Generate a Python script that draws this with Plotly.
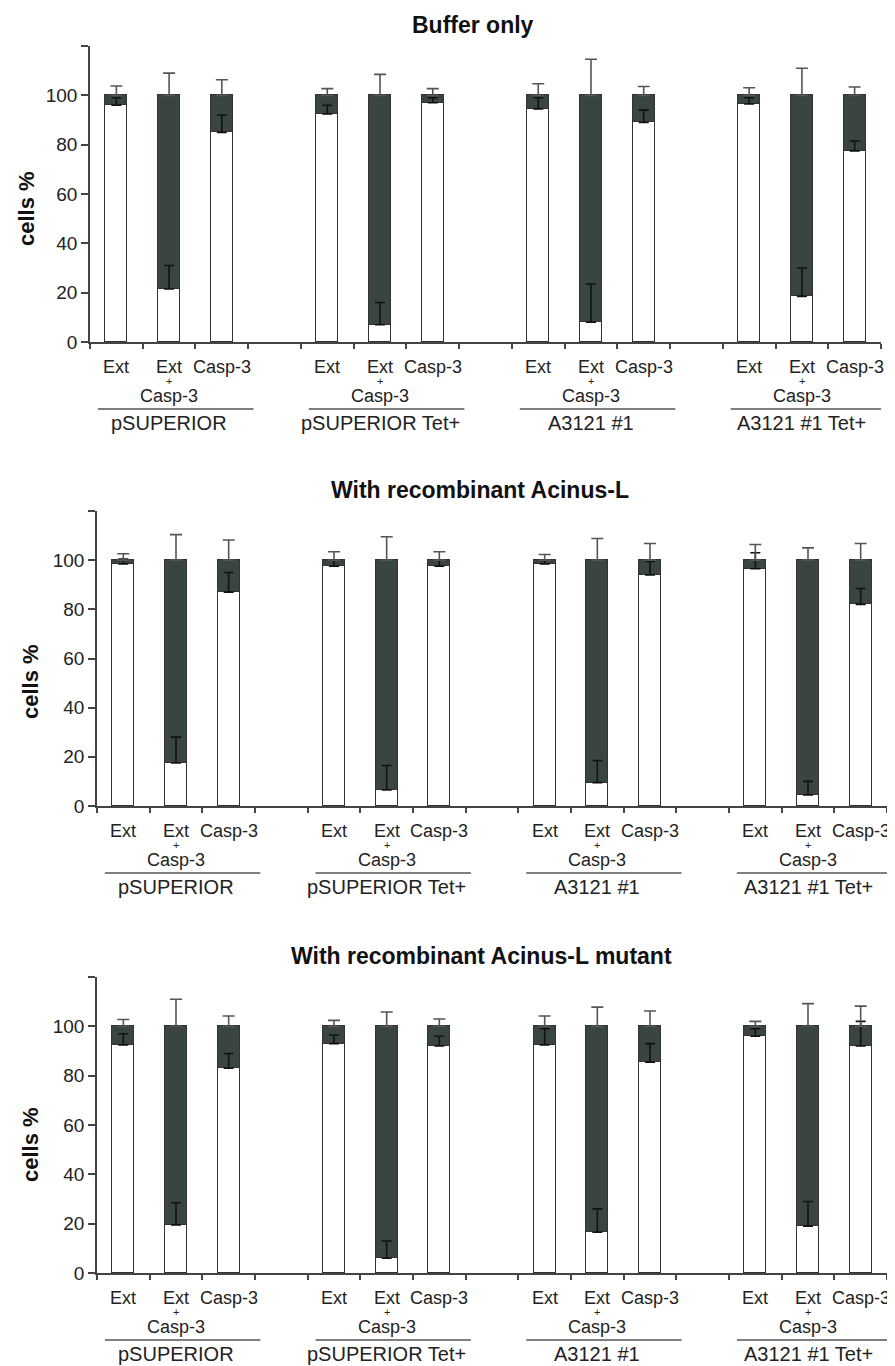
import plotly.graph_objects as go

# ---------------- data ----------------
groups = ["pSUPERIOR", "pSUPERIOR Tet+", "A3121 #1", "A3121 #1 Tet+"]
conditions = ["Ext", "Ext+Casp-3", "Casp-3"]
panel_titles = ["Buffer only", "With recombinant Acinus-L", "With recombinant Acinus-L mutant"]
y_tick_vals = [0, 20, 40, 60, 80, 100, 120]
y_tick_text = ["0", "20", "40", "60", "80", "100", ""]

# white (lower) segment %, its error, and error of the full (100 %) stack
white_buffer = [96, 21.5, 85, 92.5, 7, 97, 94.5, 8, 89, 96.5, 18.5, 77.5]
white_err_buffer = [3, 9.5, 7, 3.5, 9, 2, 4.5, 15.5, 5, 2.5, 11.5, 4]
top_err_buffer = [3.8, 9, 6.3, 2.7, 8.5, 2.7, 4.7, 14.6, 3.6, 3.1, 11, 3.4]

white_acl = [98.5, 17.5, 87, 97.5, 6.5, 97.5, 98.5, 9.5, 94, 96.5, 4.5, 82]
white_err_acl = [2, 10.5, 8, 2.5, 10, 2.5, 1.5, 9, 5.5, 6.5, 5.5, 6.5]
top_err_acl = [2.6, 10.4, 8.2, 3.4, 9.5, 3.4, 2.3, 8.8, 6.8, 6.4, 5, 6.8]

white_mut = [92.5, 19.5, 83, 93, 6, 92, 92.5, 16.5, 85.5, 96, 19, 92]
white_err_mut = [4.5, 9, 6, 3.5, 7, 4, 6.5, 9.5, 7.5, 3, 10, 10]
top_err_mut = [2.8, 11, 4.2, 2.4, 5.8, 3, 4.2, 7.8, 6.2, 2, 9.2, 8.2]

# ---------------- layout config ----------------
PAGE_W, PAGE_H = 895, 1366
OFF = 8  # default body margin of the page
W, H = PAGE_W - OFF, PAGE_H - OFF
DARK = "#3a4540"
EDGE = "#333333"
AXC = "#444444"
FONT = "Liberation Sans, Arial, sans-serif"


def px(xp):
    return (xp - OFF) / W


def py(yp):
    return 1 - (yp - OFF) / H


panels = [
    dict(white=white_buffer, werr=white_err_buffer, terr=top_err_buffer,
         xdom=(90, 881), ytop=46, ybot=342, title_c=(473, 25), ylab_c=(26, 209)),
    dict(white=white_acl, werr=white_err_acl, terr=top_err_acl,
         xdom=(97, 887), ytop=511, ybot=806, title_c=(480, 490), ylab_c=(30, 682)),
    dict(white=white_mut, werr=white_err_mut, terr=top_err_mut,
         xdom=(97, 887), ytop=977, ybot=1273, title_c=(481, 956), ylab_c=(30, 1145)),
]

# slot positions: 3 bars per group + 1 empty slot between groups
slots = [g * 4 + c for g in range(len(groups)) for c in range(len(conditions))]

fig = go.Figure()
annotations = []
shapes = []
layout_axes = {}

for i, p in enumerate(panels, start=1):
    xa, ya = f"x{i}", f"y{i}"
    white = p["white"]
    dark = [100 - w for w in white]
    total = [w + d for w, d in zip(white, dark)]

    fig.add_trace(go.Bar(x=slots, y=white, xaxis=xa, yaxis=ya, width=0.42,
                         marker=dict(color="white", line=dict(color=EDGE, width=1.5)),
                         showlegend=False, hoverinfo="skip"))
    fig.add_trace(go.Bar(x=slots, y=dark, xaxis=xa, yaxis=ya, width=0.42,
                         marker=dict(color=DARK, line=dict(color=EDGE, width=1.5)),
                         showlegend=False, hoverinfo="skip"))
    fig.add_trace(go.Scatter(x=slots, y=white, xaxis=xa, yaxis=ya, mode="markers",
                             marker=dict(size=1, color="rgba(0,0,0,0)"),
                             error_y=dict(type="data", symmetric=False, array=p["werr"],
                                          arrayminus=[0] * len(white), color="#111111",
                                          thickness=1.6, width=5),
                             showlegend=False, hoverinfo="skip"))
    fig.add_trace(go.Scatter(x=slots, y=total, xaxis=xa, yaxis=ya, mode="markers",
                             marker=dict(size=1, color="rgba(0,0,0,0)"),
                             error_y=dict(type="data", symmetric=False, array=p["terr"],
                                          arrayminus=[0] * len(white), color="#555555",
                                          thickness=1.6, width=6),
                             showlegend=False, hoverinfo="skip"))

    yb = py(p["ybot"])
    yt = py(p["ytop"])
    suffix = "" if i == 1 else str(i)
    layout_axes["xaxis" + suffix] = dict(
        domain=[px(p["xdom"][0]), px(p["xdom"][1])], anchor=ya, range=[-0.5, 14.5],
        tickvals=[k - 0.5 for k in range(16)], ticktext=[""] * 16, automargin=False,
        ticks="outside", ticklen=5, tickwidth=1.5, tickcolor=AXC,
        showline=True, linecolor=AXC, linewidth=1.5, showgrid=False, zeroline=False)
    layout_axes["yaxis" + suffix] = dict(
        domain=[yb, yt], anchor=xa, range=[0, 120], automargin=False,
        tickvals=y_tick_vals, ticktext=y_tick_text,
        ticks="outside", ticklen=7, tickwidth=1.5, tickcolor=AXC,
        showline=True, linecolor=AXC, linewidth=1.5, showgrid=False, zeroline=False,
        tickfont=dict(family=FONT, size=19, color="#222222"))

    # titles
    annotations.append(dict(text=panel_titles[i - 1], xref="paper", yref="paper",
                            x=px(p["title_c"][0]), y=py(p["title_c"][1]),
                            xanchor="center", yanchor="middle", showarrow=False,
                            font=dict(family=FONT, size=23, color="#111111", weight="bold")))
    annotations.append(dict(text="cells %", xref="paper", yref="paper", textangle=-90,
                            x=px(p["ylab_c"][0]), y=py(p["ylab_c"][1]),
                            xanchor="center", yanchor="middle", showarrow=False,
                            font=dict(family=FONT, size=22, color="#111111", weight="bold")))

    lab_font = dict(family=FONT, size=18, color="#222222")
    for g, gname in enumerate(groups):
        base = g * 4
        common = dict(xref=xa, yref="paper", xanchor="center", showarrow=False, borderpad=0)
        annotations.append(dict(text="Ext", x=base, y=yb - 14 / H, yanchor="top",
                                font=lab_font, **common))
        annotations.append(dict(text="Ext", x=base + 1, y=yb - 14 / H, yanchor="top",
                                font=lab_font, **common))
        annotations.append(dict(text="+", x=base + 1, y=yb - 38.5 / H, yanchor="middle",
                                font=dict(family=FONT, size=11, color="#222222"), **common))
        annotations.append(dict(text="Casp-3", x=base + 1, y=yb - 43 / H, yanchor="top",
                                font=lab_font, **common))
        annotations.append(dict(text="Casp-3", x=base + 2, y=yb - 14 / H, yanchor="top",
                                font=lab_font, **common))
        annotations.append(dict(text=gname, x=base + 1, y=yb - 69 / H, yanchor="top",
                                font=dict(family=FONT, size=20, color="#222222"), **common))
        shapes.append(dict(type="line", xref=xa, yref="paper", x0=base - 0.35, x1=base + 2.6,
                           y0=yb - 67 / H, y1=yb - 67 / H,
                           line=dict(color="#555555", width=1.5)))

fig.update_layout(
    width=W, height=H, margin=dict(l=0, r=0, t=0, b=0),
    paper_bgcolor="white", plot_bgcolor="white",
    barmode="stack", bargap=0, showlegend=False,
    annotations=annotations, shapes=shapes, **layout_axes)

fig.write_html("out.html")
